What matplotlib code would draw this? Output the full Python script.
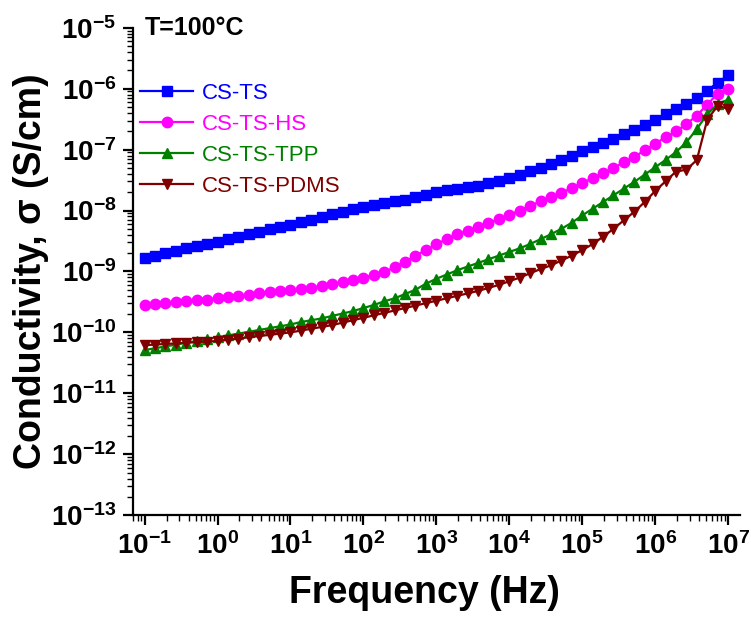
import numpy as np
import matplotlib
matplotlib.use("Agg")
from matplotlib import pyplot as plt
from matplotlib import font_manager as fm
from matplotlib.ticker import FuncFormatter, LogLocator, NullFormatter

# frequency sweep, 7 points per decade from 0.1 Hz to 10 MHz
freq = np.logspace(-1, 7, 57)

# log10 of conductivity (S/cm)
cs_ts = [-8.78, -8.74, -8.70, -8.66, -8.62, -8.58, -8.55, -8.51, -8.47, -8.43,
         -8.39, -8.35, -8.31, -8.27, -8.23, -8.19, -8.15, -8.10, -8.06, -8.02,
         -7.98, -7.94, -7.91, -7.88, -7.85, -7.82, -7.78, -7.74, -7.70, -7.67,
         -7.64, -7.62, -7.59, -7.55, -7.51, -7.46, -7.41, -7.35, -7.30, -7.24,
         -7.17, -7.10, -7.03, -6.96, -6.89, -6.82, -6.75, -6.68, -6.59, -6.51,
         -6.42, -6.34, -6.25, -6.15, -6.03, -5.90, -5.78]
cs_ts_hs = [-9.55, -9.53, -9.52, -9.50, -9.49, -9.47, -9.46, -9.44, -9.42, -9.40,
            -9.38, -9.36, -9.34, -9.32, -9.31, -9.29, -9.27, -9.24, -9.21, -9.17,
            -9.14, -9.10, -9.06, -9.01, -8.93, -8.84, -8.74, -8.65, -8.55, -8.47,
            -8.39, -8.33, -8.27, -8.20, -8.14, -8.07, -8.00, -7.92, -7.85, -7.78,
            -7.71, -7.63, -7.55, -7.47, -7.39, -7.30, -7.21, -7.12, -7.01, -6.90,
            -6.80, -6.70, -6.58, -6.44, -6.26, -6.08, -6.01]
cs_ts_tpp = [-10.29, -10.26, -10.23, -10.20, -10.17, -10.14, -10.11, -10.08, -10.05, -10.02,
             -9.99, -9.96, -9.93, -9.90, -9.87, -9.83, -9.80, -9.77, -9.73, -9.69,
             -9.65, -9.60, -9.55, -9.49, -9.44, -9.37, -9.30, -9.20, -9.12, -9.05,
             -8.98, -8.92, -8.86, -8.80, -8.74, -8.68, -8.62, -8.55, -8.47, -8.39,
             -8.30, -8.20, -8.08, -7.97, -7.86, -7.75, -7.64, -7.53, -7.41, -7.29,
             -7.17, -7.04, -6.88, -6.66, -6.42, -6.25, -6.18]
cs_ts_pdms = [-10.21, -10.20, -10.19, -10.18, -10.17, -10.16, -10.15, -10.14, -10.12, -10.10,
              -10.08, -10.06, -10.04, -10.02, -10.00, -9.97, -9.94, -9.91, -9.88, -9.84,
              -9.80, -9.76, -9.72, -9.68, -9.64, -9.60, -9.56, -9.52, -9.48, -9.44,
              -9.40, -9.36, -9.32, -9.27, -9.22, -9.16, -9.10, -9.03, -8.96, -8.90,
              -8.82, -8.74, -8.65, -8.55, -8.43, -8.30, -8.16, -8.02, -7.86, -7.68,
              -7.52, -7.36, -7.33, -7.17, -6.51, -6.28, -6.33]

labels = ["CS-TS", "CS-TS-HS", "CS-TS-TPP", "CS-TS-PDMS"]
colors = ["#0000ff", "#ff00ff", "#008000", "#800000"]
markers = ["s", "o", "^", "v"]


def pick(name, fallback):
    try:
        fm.findfont(name, fallback_to_default=False)
        return name
    except Exception:
        return fallback


base = "Liberation Sans"
narrow = pick("Liberation Sans Narrow", base)
plt.rcParams["font.family"] = [base, "DejaVu Sans"]
plt.rcParams["mathtext.fontset"] = "custom"
plt.rcParams["mathtext.bf"] = narrow + ":bold"
plt.rcParams["mathtext.rm"] = narrow

fig = plt.figure(figsize=(7.51, 6.17), dpi=100)
ax = fig.add_axes([0.177, 0.165, 0.808, 0.79])

for vals, lab, c, m in zip([cs_ts, cs_ts_hs, cs_ts_tpp, cs_ts_pdms], labels, colors, markers):
    ax.plot(freq, 10 ** np.array(vals), color=c, marker=m, markersize=7.5,
            linewidth=1.6, label=lab)

ax.set_xscale("log")
ax.set_yscale("log")
ax.set_xlim(10 ** -1.16, 10 ** 7.16)
ax.set_ylim(1e-13, 1e-5)

ax.spines["top"].set_visible(False)
ax.spines["right"].set_visible(False)
for s in ["left", "bottom"]:
    ax.spines[s].set_linewidth(1.6)

ax.xaxis.set_major_locator(LogLocator(base=10, numticks=20))
ax.xaxis.set_minor_locator(LogLocator(base=10, subs=np.arange(2, 10), numticks=20))
ax.yaxis.set_major_locator(LogLocator(base=10, numticks=20))
ax.yaxis.set_minor_locator(LogLocator(base=10, subs=np.arange(2, 10), numticks=20))
fmt = FuncFormatter(lambda v, p: r"$\mathbf{10^{%d}}$" % round(np.log10(v)))
ax.xaxis.set_major_formatter(fmt)
ax.yaxis.set_major_formatter(fmt)
ax.xaxis.set_minor_formatter(NullFormatter())
ax.yaxis.set_minor_formatter(NullFormatter())
ax.tick_params(which="major", direction="out", length=7, width=1.6, labelsize=20, pad=5)
ax.tick_params(which="minor", direction="out", length=4, width=1.0)

ax.set_xlabel("Frequency (Hz)", fontsize=27, fontweight="bold")
ax.xaxis.set_label_coords(0.48, -0.122)
ax.set_ylabel("Conductivity, σ (S/cm)", fontsize=27, fontweight="bold")
ax.yaxis.set_label_coords(-0.138, 0.5)

ax.text(0.02, 1.0, "T=100°C", transform=ax.transAxes, fontsize=18,
        fontweight="bold", va="center", ha="left")

leg = ax.legend(loc="upper left", bbox_to_anchor=(0.0115, 0.887), frameon=False,
                fontsize=16, handlelength=2.4, handletextpad=0.4,
                labelspacing=0.45, borderaxespad=0, borderpad=0)
for t, c in zip(leg.get_texts(), colors):
    t.set_color(c)

fig.savefig("out.png", dpi=100)
